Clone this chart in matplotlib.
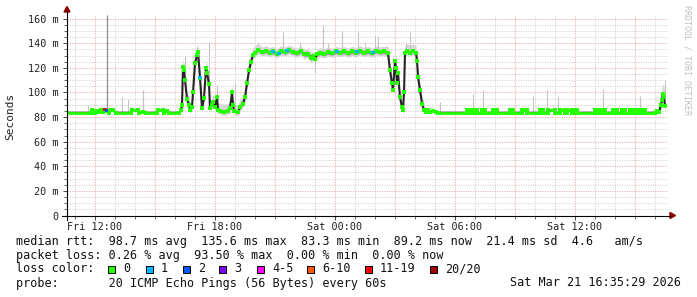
import matplotlib
matplotlib.use("Agg")
import matplotlib.pyplot as plt
import numpy as np
from matplotlib.collections import LineCollection
from matplotlib.lines import Line2D
from matplotlib.patches import Polygon, Rectangle

# median rtt, hours since Fri 00:00 -> ms
median_h = [10.60, 11.80, 11.85, 11.95, 12.00, 12.10, 12.20, 12.30, 12.40, 12.50,
            12.60, 12.70, 12.80, 12.90, 13.05, 13.80, 13.85, 14.15, 14.20, 14.40,
            14.55, 15.10, 15.15, 15.40, 15.45, 15.60, 15.70, 16.20, 16.30, 16.35,
            16.40, 16.45, 16.50, 16.60, 16.70, 16.75, 16.85, 16.90, 17.00, 17.10,
            17.15, 17.25, 17.35, 17.45, 17.55, 17.60, 17.70, 17.75, 17.85, 17.90,
            18.00, 18.10, 18.15, 18.25, 18.45, 18.65, 18.75, 18.85, 18.90, 18.95,
            19.15, 19.25, 19.40, 19.50, 19.60, 19.70, 19.80, 19.90, 20.00, 20.15,
            20.35, 20.55, 20.75, 20.90, 21.10, 21.30, 21.50, 21.70, 21.90, 22.10,
            22.30, 22.45, 22.65, 22.80, 22.90, 23.00, 23.10, 23.25, 23.45, 23.65,
            23.85, 24.05, 24.25, 24.45, 24.65, 24.85, 25.05, 25.25, 25.45, 25.65,
            25.85, 26.05, 26.25, 26.45, 26.65, 26.75, 26.85, 26.90, 27.00, 27.05,
            27.10, 27.15, 27.25, 27.35, 27.40, 27.45, 27.50, 27.60, 27.75, 27.90,
            28.05, 28.10, 28.15, 28.25, 28.35, 28.45, 28.55, 28.65, 28.75, 28.90,
            29.05, 29.15,
            30.60, 30.62, 30.75, 30.77, 30.90, 30.92, 31.10, 31.12,
            31.35, 31.37, 31.50, 31.52, 31.90, 31.92, 32.10, 32.12,
            32.75, 32.77, 32.90, 32.92, 33.35, 33.37, 33.60, 33.62,
            34.25, 34.27, 34.40, 34.42, 34.65, 34.67, 35.00, 35.02,
            35.25, 35.27, 35.50, 35.52, 35.60, 35.62, 35.85, 35.87,
            36.00, 36.02, 36.10, 36.12, 37.00, 37.02, 37.15, 37.17,
            37.35, 37.37, 37.50, 37.52, 37.90, 37.92, 38.10, 38.12,
            38.35, 38.37, 38.50, 38.52, 38.75, 38.77, 38.90, 38.92,
            39.00, 39.02, 39.15, 39.17, 39.35, 39.37, 39.50, 39.52,
            40.00, 40.10, 40.20, 40.30, 40.35, 40.40, 40.45, 40.50]
median_ms = [83.5, 83.5, 85.5, 85.0, 83.5, 85.0, 84.0, 85.5, 84.5, 86.0,
             85.0, 83.5, 85.5, 86.0, 83.5, 83.5, 85.5, 85.5, 83.5, 84.5,
             83.5, 83.5, 85.5, 85.5, 83.5, 85.0, 83.5, 83.5, 86.0, 90.0,
             121.0, 118.0, 110.0, 95.0, 90.0, 86.0, 88.0, 100.0, 124.0, 130.5,
             133.0, 112.0, 87.0, 95.5, 120.0, 116.0, 107.0, 87.0, 90.0, 92.0,
             88.0, 96.0, 86.0, 85.0, 84.5, 85.0, 87.0, 100.0, 90.0, 85.0,
             84.0, 88.0, 91.0, 96.0, 107.5, 118.0, 125.0, 130.5, 132.0, 134.5,
             133.0, 134.0, 132.5, 133.5, 131.5, 134.0, 133.0, 134.5, 133.0, 132.0,
             134.0, 131.0, 131.5, 128.0, 130.0, 127.5, 131.0, 132.5, 131.5, 133.0,
             132.0, 133.5, 132.5, 133.5, 132.0, 133.5, 132.5, 134.0, 132.5, 133.5,
             132.0, 134.0, 133.0, 133.5, 132.0, 118.0, 107.5, 102.0, 126.0, 120.0,
             108.0, 115.5, 96.0, 88.0, 85.5, 100.0, 132.0, 133.5, 132.5, 133.5,
             132.0, 126.0, 112.5, 102.0, 91.0, 85.5, 84.5, 85.5, 84.0, 85.0,
             84.0, 83.5,
             83.5, 85.5, 85.5, 83.5, 83.5, 85.5, 85.5, 83.5,
             83.5, 85.5, 85.5, 83.5, 83.5, 85.5, 85.5, 83.5,
             83.5, 85.5, 85.5, 83.5, 83.5, 85.5, 85.5, 83.5,
             83.5, 85.5, 85.5, 83.5, 83.5, 85.5, 85.5, 83.5,
             83.5, 85.5, 85.5, 83.5, 83.5, 85.5, 85.5, 83.5,
             83.5, 85.5, 85.5, 83.5, 83.5, 85.5, 85.5, 83.5,
             83.5, 85.5, 85.5, 83.5, 83.5, 85.5, 85.5, 83.5,
             83.5, 85.5, 85.5, 83.5, 83.5, 85.5, 85.5, 83.5,
             83.5, 85.5, 85.5, 83.5, 83.5, 85.5, 85.5, 83.5,
             83.5, 85.0, 84.0, 90.0, 94.0, 98.5, 96.0, 89.2]

# smoke spread around the median, by time zone (start hour of each zone)
smoke_zone_h = [10.60, 16.25, 20.25, 26.65, 28.50, 40.25]
smoke_in_lo = [0.3, 1.0, 1.8, 1.0, 0.3, 1.5]
smoke_in_hi = [0.5, 1.5, 1.5, 1.5, 0.5, 2.5]
smoke_out_lo = [0.6, 3.0, 3.5, 3.0, 0.6, 4.0]
smoke_out_hi = [1.2, 6.0, 4.0, 6.0, 1.2, 9.0]

# single ping outliers (hour, low, high)
spike_h = [11.65, 12.60, 13.35, 13.65, 14.40, 16.50, 17.10, 17.70, 18.10, 19.00,
           21.40, 22.25, 23.00, 23.40, 23.65, 24.35, 25.15, 25.50, 26.00, 26.15,
           27.55, 27.75, 29.25, 30.90, 31.40, 33.90, 34.60, 35.15, 37.40, 39.25, 40.50]
spike_lo = [84, 84, 84, 84, 84, 100, 125, 100, 90, 85,
            134, 134, 116, 133, 134, 134, 134, 134, 134, 134,
            133, 134, 84, 84, 84, 84, 84, 84, 84, 84, 95]
spike_hi = [90, 163, 96, 95, 102, 130, 137, 141, 106, 108,
            149, 141, 128, 155, 140, 150, 150, 141, 146, 146,
            140, 149, 92, 99, 102, 97, 102, 97, 103, 97, 110]

# samples with packet loss (hour, ms, loss class)
loss_h = [12.50, 12.58, 17.25, 20.90, 21.20, 21.60, 24.10, 25.10, 25.90]
loss_ms = [86.0, 85.0, 112.0, 133.0, 132.0, 134.0, 133.0, 133.0, 132.5]
loss_cls = [6, 2, 1, 1, 1, 1, 1, 1, 1]

loss_labels = ["0", "1", "2", "3", "4-5", "6-10", "11-19", "20/20"]
loss_colors = ["#26ff00", "#00b8ff", "#0059ff", "#7e00ff", "#ff00ff",
               "#ff5500", "#ff0000", "#a10000"]

tick_hours = [12, 18, 24, 30, 36]
tick_labels = ["Fri 12:00", "Fri 18:00", "Sat 00:00", "Sat 06:00", "Sat 12:00"]
y_major = [0, 20, 40, 60, 80, 100, 120, 140, 160]
y_labels = ["0", "20 m", "40 m", "60 m", "80 m", "100 m", "120 m", "140 m", "160 m"]

stats_line = "median rtt:  98.7 ms avg  135.6 ms max  83.3 ms min  89.2 ms now  21.4 ms sd  4.6   am/s"
loss_line = "packet loss: 0.26 % avg  93.50 % max  0.00 % min  0.00 % now"
probe_line = "probe:       20 ICMP Echo Pings (56 Bytes) every 60s"
date_text = "Sat Mar 21 16:35:29 2026"

W, H = 697, 297
MONO = "DejaVu Sans Mono"


def fx(x):
    return x / W


def fy(y):
    return 1 - y / H


fig = plt.figure(figsize=(W / 100, H / 100), dpi=100)
ax = fig.add_axes([fx(67), fy(215.5), 601 / W, 200.5 / H])
ax.set_xlim(10.6, 40.65)
ax.set_ylim(0, 163)
for s in ax.spines.values():
    s.set_visible(False)

# grid
for h in range(11, 41):
    col = "#f0a0a0" if h % 3 == 0 else "#cfcfcf"
    ax.axvline(h, color=col, lw=0.72, dashes=(1, 1.4), zorder=0)
for v in range(5, 165, 5):
    col = "#f0a0a0" if v % 20 == 0 else "#cfcfcf"
    ax.axhline(v, color=col, lw=0.72, dashes=(1, 1.4), zorder=0)

t = np.array(median_h)
m = np.array(median_ms)
zi = np.searchsorted(smoke_zone_h, t, side="right") - 1
ax.fill_between(t, m - np.take(smoke_out_lo, zi), m + np.take(smoke_out_hi, zi),
                color="#d6d6d6", lw=0, zorder=1)
ax.vlines(spike_h, spike_lo, spike_hi, color="#c4c4c4", lw=0.8, zorder=1)
ax.vlines(spike_h[1], spike_lo[1], spike_hi[1], color="#8a8a8a", lw=0.8, zorder=1)
ax.fill_between(t, m - np.take(smoke_in_lo, zi), m + np.take(smoke_in_hi, zi),
                color="#9a9a9a", lw=0, zorder=2)
ax.plot(t, m, color="#262626", lw=1.5, zorder=3)

# median drawn green where the line is flat, as dots where it is steep
pts = np.column_stack([t, m])
segs = np.stack([pts[:-1], pts[1:]], axis=1)
slope = np.abs(np.diff(m) * 1.231) / np.maximum(np.diff(t) * 20, 1e-6)
flat = segs[slope < 1.2]
ax.add_collection(LineCollection(flat, colors=loss_colors[0], linewidths=2.0,
                                 capstyle="butt", zorder=4))
ax.plot(t, m, ls="none", marker="s", ms=2.2, mew=0, color=loss_colors[0], zorder=4)
ax.scatter(loss_h, loss_ms, marker="s", s=5, lw=0,
           c=[loss_colors[c] for c in loss_cls], zorder=5)

# ticks
ax.set_xticks(tick_hours, tick_labels)
ax.set_xticks(range(11, 41), minor=True)
ax.set_yticks(y_major, y_labels)
ax.set_yticks(range(5, 165, 5), minor=True)
ax.tick_params(which="major", length=3, width=0.7, color="#444", pad=2,
               labelsize=7.3, labelcolor="#222")
ax.tick_params(which="minor", length=2, width=0.7, color="#666")
ax.tick_params(axis="y", pad=3)
for lab in ax.get_xticklabels() + ax.get_yticklabels():
    lab.set_family(MONO)

# axes with rrdtool arrows
fig.add_artist(Line2D([fx(62), fx(670)], [fy(215.5), fy(215.5)], color="black", lw=0.8))
fig.add_artist(Line2D([fx(67), fx(67)], [fy(220), fy(11)], color="black", lw=0.8))
fig.add_artist(Polygon([[fx(670), fy(212.5)], [fx(670), fy(218.5)], [fx(675.5), fy(215.5)]],
                       closed=True, color="#8b0000", transform=fig.transFigure))
fig.add_artist(Polygon([[fx(64), fy(12)], [fx(70), fy(12)], [fx(67), fy(6.5)]],
                       closed=True, color="#8b0000", transform=fig.transFigure))

fig.text(fx(10), fy(116), "Seconds", rotation=90, ha="center", va="center",
         family=MONO, fontsize=8, color="#222")
fig.text(fx(687), fy(60), "RRDTOOL / TOBI OETIKER", rotation=270, ha="center",
         va="center", family=MONO, fontsize=6, color="#c0c0c0")

# legend block
fs = 8.5
fig.text(fx(16), fy(241), stats_line, family=MONO, fontsize=fs, va="center", color="#111")
fig.text(fx(16), fy(255), loss_line, family=MONO, fontsize=fs, va="center", color="#111")
fig.text(fx(16), fy(269), "loss color:", family=MONO, fontsize=fs, va="center", color="#111")
box_x = [108, 146, 183, 219, 257, 307, 365, 430]
for bx, lab, col in zip(box_x, loss_labels, loss_colors):
    fig.add_artist(Rectangle((fx(bx), fy(272.5)), 7 / W, 7 / H, transform=fig.transFigure,
                             facecolor=col, edgecolor="black", lw=0.7))
    fig.text(fx(bx + 15), fy(269), lab, family=MONO, fontsize=fs, va="center", color="#111")
fig.text(fx(16), fy(283), probe_line, family=MONO, fontsize=fs, va="center", color="#111")
fig.text(fx(681), fy(283), date_text, family=MONO, fontsize=fs, va="center", ha="right",
         color="#111")

fig.savefig("out.png", dpi=100)
